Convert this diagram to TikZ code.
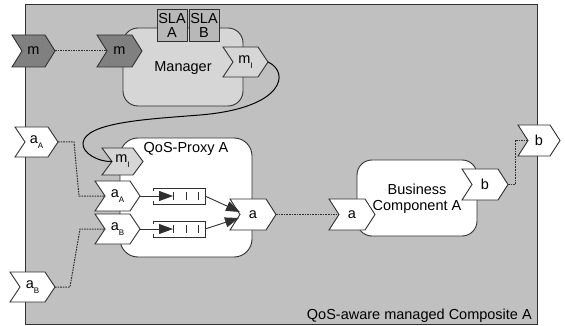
\documentclass[tikz,border=0pt]{standalone}
\usepackage{fontspec}
\setmainfont{Liberation Sans}
\usetikzlibrary{arrows.meta}

\definecolor{compfill}{HTML}{C0C0C0}
\definecolor{lightfill}{HTML}{D6D6D6}
\definecolor{slafill}{HTML}{B8B8B8}
\definecolor{darkport}{HTML}{808080}
\definecolor{edge}{HTML}{303030}

% label with a small lowered index
\newcommand\idx[2]{#1\raisebox{-5pt}{\fontsize{8}{8}\selectfont #2}}

% chevron port: name, left, top, right, bottom, fill, text
\newcommand\portat[7]{%
  \pgfmathsetmacro\pmid{(#3+#5)/2}%
  \pgfmathsetmacro\pcx{(#2+#4)/2}%
  \draw[outline, fill=#6] (#2,#3) -- ({#4-10},#3) -- (#4,\pmid) -- ({#4-10},#5)
    -- (#2,#5) -- ({#2+10},\pmid) -- cycle;
  \coordinate (#1-in) at ({#2+10},\pmid);
  \coordinate (#1-out) at (#4,\pmid);
  \node[portlabel] (#1) at (\pcx,\pmid) {#7};
}

% message queue: name, middle y
\newcommand\queueat[2]{%
  \pgfmathsetmacro\qt{#2-8}%
  \pgfmathsetmacro\qb{#2+8}%
  \draw[outline] (153,{\qt+3}) -- (153,\qt) -- (205,\qt) -- (205,\qb) -- (153,\qb) -- (153,{\qb-3});
  \foreach \dx in {161,173,186,198}
    \draw[outline] (\dx,{\qt+4}) -- (\dx,{\qb-4});
  \coordinate (#1-in) at (173,#2);
  \coordinate (#1-out) at (205,#2);
}

\tikzset{
  outline/.style={draw=edge, line width=0.9pt},
  txt/.style={inner sep=0pt, font=\fontsize{14.5}{17}\selectfont},
  portlabel/.style={txt},
  wire/.style={draw=edge, line width=1pt, dash pattern=on 1.6pt off 1pt},
  flow/.style={draw=edge, line width=0.9pt, -{Triangle[length=14pt,width=10pt]}},
  link/.style={draw=black, line width=1pt},
}

\begin{document}
\begin{tikzpicture}[x=1pt,y=-1pt]
\useasboundingbox (0,0) rectangle (565,326);

% composite
\path[outline, fill=compfill] (25,4) rectangle (537,324);
\node[txt, anchor=base east] (comp) at (532,319) {QoS-aware managed Composite A};

% manager and its SLAs
\path[outline, fill=lightfill, rounded corners=15pt] (123,28) rectangle (243,106);
\node[txt, anchor=base] (mgr) at (183,72) {Manager};
\path[outline, fill=slafill] (157,9) rectangle (187,41);
\path[outline, fill=slafill] (189,9) rectangle (219,41);
\node[txt, anchor=base] (slaA1) at (172,24) {SLA};
\node[txt, anchor=base] (slaA2) at (172,38) {A};
\node[txt, anchor=base] (slaB1) at (204,24) {SLA};
\node[txt, anchor=base] (slaB2) at (204,38) {B};

% proxy
\path[outline, fill=white, rounded corners=18pt] (120,138) rectangle (252,257);
\node[txt, anchor=base] (px) at (186,153) {QoS-Proxy A};

% business component
\path[outline, fill=white, rounded corners=15pt] (357,160) rectangle (477,236);
\node[txt, anchor=base] (bc1) at (417,194) {Business};
\node[txt, anchor=base] (bc2) at (417,211) {Component A};

% ports
\portat{mext}{12}{35}{55}{67}{darkport}{m}
\portat{mmgr}{97}{35}{142}{67}{darkport}{m}
\portat{mgrI}{223}{47}{268}{77}{lightfill}{\idx{m}{I}}
\portat{pxI}{102}{148}{143}{175}{lightfill}{\idx{m}{I}}
\portat{aAext}{15}{127}{58}{157}{white}{\idx{a}{A}}
\portat{aBext}{10}{272}{55}{302}{white}{\idx{a}{B}}
\portat{pxA}{95}{181}{140}{211}{white}{\idx{a}{A}}
\portat{pxB}{95}{214}{140}{244}{white}{\idx{a}{B}}
\portat{pxOut}{230}{199}{276}{230}{white}{a}
\portat{bcIn}{329}{199}{375}{230}{white}{a}
\portat{bcOut}{462}{169}{508}{200}{white}{b}
\portat{bext}{518}{125}{560}{156}{white}{b}

% queues inside the proxy
\queueat{q1}{196}
\queueat{q2}{229}
\coordinate (pxOut-n1) at (240,212);
\coordinate (pxOut-n2) at (239,218);

\draw[flow] (pxA-out) -- (q1-in);
\draw[flow] (pxB-out) -- (q2-in);
\draw[flow] (q1-out) -- (pxOut-n1);
\draw[flow] (q2-out) -- (pxOut-n2);

% wiring
\draw[wire] (mext-out) -- (mmgr-in);
\draw[wire] (aAext-out) -- (74,142) -- (79,196) -- (pxA-in);
\draw[wire] (aBext-out) -- (70,287) -- (80,229) -- (pxB-in);
\draw[wire] (pxOut-out) -- (bcIn-in);
\draw[wire] (bcOut-out) -- (515,184.5) -- (515,140.5) -- (bext-in);

% management link
\draw[link] (mgrI-out) .. controls (290,72) and (285,108) .. (200,115)
  .. controls (150,119) and (85,122) .. (83,143)
  .. controls (82,153) and (98,162) .. (pxI-in);
\end{tikzpicture}
\end{document}
